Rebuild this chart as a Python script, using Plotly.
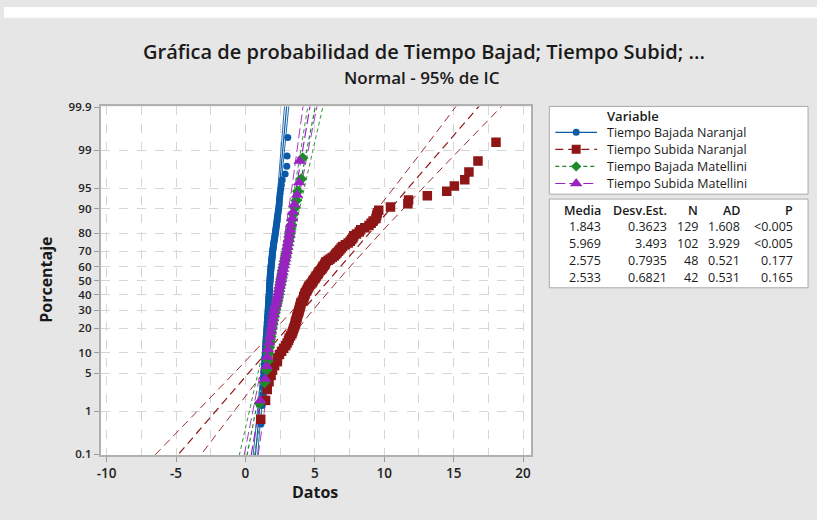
import plotly.graph_objects as go
from statistics import NormalDist

nd = NormalDist()

# ---------------- data ----------------
series_names = ["Tiempo Bajada Naranjal", "Tiempo Subida Naranjal",
                "Tiempo Bajada Matellini", "Tiempo Subida Matellini"]

bajada_naranjal = [
    1.12, 1.19, 1.24, 1.27, 1.30, 1.32, 1.34, 1.35, 1.37, 1.39,
    1.40, 1.42, 1.42, 1.44, 1.45, 1.45, 1.47, 1.47, 1.49, 1.49,
    1.50, 1.52, 1.52, 1.54, 1.54, 1.55, 1.55, 1.57, 1.57, 1.57,
    1.59, 1.59, 1.60, 1.60, 1.62, 1.62, 1.62, 1.64, 1.64, 1.64,
    1.65, 1.65, 1.67, 1.67, 1.67, 1.67, 1.69, 1.69, 1.69, 1.70,
    1.70, 1.70, 1.72, 1.72, 1.72, 1.72, 1.74, 1.74, 1.74, 1.74,
    1.75, 1.75, 1.75, 1.77, 1.77, 1.77, 1.77, 1.79, 1.79, 1.79,
    1.80, 1.80, 1.82, 1.82, 1.82, 1.84, 1.84, 1.85, 1.85, 1.87,
    1.87, 1.89, 1.89, 1.90, 1.90, 1.92, 1.92, 1.94, 1.94, 1.95,
    1.97, 1.97, 1.99, 2.00, 2.02, 2.02, 2.04, 2.05, 2.07, 2.09,
    2.10, 2.12, 2.14, 2.15, 2.17, 2.19, 2.20, 2.22, 2.24, 2.25,
    2.27, 2.29, 2.30, 2.32, 2.35, 2.37, 2.39, 2.42, 2.44, 2.45,
    2.47, 2.50, 2.54, 2.59, 2.65, 2.86, 2.98, 3.00, 3.05]

subida_naranjal = [
    1.10, 1.45, 1.57, 1.70, 1.85, 1.95, 2.10, 2.30, 2.30, 2.45,
    2.60, 2.75, 2.90, 3.00, 3.10, 3.15, 3.25, 3.35, 3.40, 3.45,
    3.50, 3.55, 3.60, 3.60, 3.65, 3.70, 3.72, 3.75, 3.80, 3.84,
    3.86, 3.90, 3.92, 3.96, 3.98, 4.00, 4.10, 4.15, 4.20, 4.20,
    4.25, 4.30, 4.32, 4.40, 4.45, 4.50, 4.55, 4.60, 4.70, 4.80,
    4.85, 4.90, 5.00, 5.05, 5.10, 5.20, 5.25, 5.30, 5.40, 5.50,
    5.55, 5.60, 5.70, 5.75, 5.80, 5.95, 6.10, 6.25, 6.40, 6.50,
    6.60, 6.70, 6.80, 6.90, 7.00, 7.20, 7.40, 7.55, 7.65, 7.75,
    7.80, 8.00, 8.20, 8.30, 8.60, 8.90, 9.05, 9.20, 9.40, 9.45,
    9.50, 9.60, 10.45, 11.70, 11.75, 13.10, 14.50, 15.05, 15.80, 16.10,
    16.75, 18.05]

bajada_matellini = [
    1.02, 1.37, 1.52, 1.62, 1.67, 1.72, 1.77, 1.82, 1.87, 1.92,
    1.97, 2.02, 2.07, 2.12, 2.17, 2.22, 2.27, 2.32, 2.37, 2.42,
    2.44, 2.47, 2.52, 2.54, 2.57, 2.62, 2.64, 2.67, 2.72, 2.77,
    2.82, 2.87, 2.92, 2.97, 3.02, 3.07, 3.12, 3.17, 3.22, 3.27,
    3.32, 3.37, 3.47, 3.57, 3.67, 3.77, 4.02, 4.12]

subida_matellini = [
    1.07, 1.42, 1.52, 1.57, 1.62, 1.72, 1.77, 1.82, 1.87, 1.92,
    1.97, 2.02, 2.07, 2.12, 2.22, 2.27, 2.32, 2.37, 2.42, 2.47,
    2.52, 2.57, 2.62, 2.67, 2.72, 2.77, 2.82, 2.87, 2.92, 2.97,
    3.02, 3.07, 3.12, 3.17, 3.22, 3.27, 3.37, 3.42, 3.52, 3.72,
    3.87, 3.90]

table_media = ["1.843", "5.969", "2.575", "2.533"]
table_desv = ["0.3623", "3.493", "0.7935", "0.6821"]
table_n = ["129", "102", "48", "42"]
table_ad = ["1.608", "3.929", "0.521", "0.531"]
table_p = ["<0.005", "<0.005", "0.177", "0.165"]

pct_ticks = [0.1, 1, 5, 10, 20, 30, 40, 50, 60, 70, 80, 90, 95, 99, 99.9]
pct_labels = ["0.1", "1", "5", "10", "20", "30", "40", "50", "60", "70",
              "80", "90", "95", "99", "99.9"]
x_ticks = [-10, -5, 0, 5, 10, 15, 20]

# ---------------- styles ----------------
colors = ["#0b5aa8", "#8e1616", "#1f8a2a", "#9a22c2"]
symbols = ["circle", "square", "diamond", "triangle-up"]
msizes = [7, 9.5, 9, 11]
leg_msizes = [7, 9, 8, 11]
dashes = ["solid", "8px,5px", "4px,3px", "10px,4px"]

W, H = 817, 520
def PX(x):
    return x / W
def PY(y):
    return 1 - y / H

# plot area pixels
L, R, T, B = 97, 530, 102, 459.5
ZMAX = nd.inv_cdf(0.999)

fig = go.Figure()

datasets = [bajada_naranjal, subida_naranjal, bajada_matellini, subida_matellini]

# fit + CI lines
zgrid = [-3.6 + 7.2 * k / 120 for k in range(121)]
for k, data in enumerate(datasets):
    m = float(table_media[k]); s = float(table_desv[k]); n = int(table_n[k])
    fit = [m + z * s for z in zgrid]
    half = [1.959964 * s * (1.0 / n + z * z / (2.0 * n)) ** 0.5 for z in zgrid]
    lo = [f - h for f, h in zip(fit, half)]
    hi = [f + h for f, h in zip(fit, half)]
    for xs, w in ((lo, 0.9), (hi, 0.9), (fit, 1.2)):
        fig.add_trace(go.Scatter(x=xs, y=zgrid, mode="lines",
                                 line=dict(color=colors[k], width=w, dash=dashes[k]),
                                 showlegend=False, hoverinfo="skip"))

# data points (normal scores via median ranks)
for k, data in enumerate(datasets):
    vals = sorted(data)
    n = len(vals)
    zs = [nd.inv_cdf((i + 1 - 0.3) / (n + 0.4)) for i in range(n)]
    fig.add_trace(go.Scatter(x=vals, y=zs, mode="markers", name=series_names[k],
                             marker=dict(symbol=symbols[k], size=msizes[k], color=colors[k],
                                         line=dict(width=0)),
                             showlegend=False))

# ---------------- legend (drawn on helper axes in pixel units) ----------------
LX0, LX1, LY0, LY1 = 548, 808, 101, 289
leg_rows = [128.5, 146, 163.5, 181]
for k in range(4):
    fig.add_trace(go.Scatter(x=[554, 596], y=[leg_rows[k], leg_rows[k]], mode="lines",
                             line=dict(color=colors[k], width=1.2, dash=dashes[k]),
                             xaxis="x2", yaxis="y2", showlegend=False, hoverinfo="skip"))
    fig.add_trace(go.Scatter(x=[575], y=[leg_rows[k]], mode="markers",
                             marker=dict(symbol=symbols[k], size=leg_msizes[k], color=colors[k]),
                             xaxis="x2", yaxis="y2", showlegend=False, hoverinfo="skip"))

FONT = "Open Sans"
TXT = "#1a1a1a"
ann = []
ann.append(dict(x=604, y=112, xref="x2", yref="y2", text="Variable", showarrow=False,
                xanchor="left", yanchor="middle",
                font=dict(family=FONT, size=13, color=TXT, weight=600)))
for k in range(4):
    ann.append(dict(x=604, y=leg_rows[k], xref="x2", yref="y2", text=series_names[k],
                    showarrow=False, xanchor="left", yanchor="middle",
                    font=dict(family=FONT, size=12.5, color=TXT)))

col_right = [602, 668, 699, 742, 795]
headers = ["Media", "Desv.Est.", "N", "AD", "P"]
for c, h in enumerate(headers):
    ann.append(dict(x=col_right[c], y=209, xref="x2", yref="y2", text=h, showarrow=False,
                    xanchor="right", yanchor="middle",
                    font=dict(family=FONT, size=12.5, color=TXT, weight=600)))
row_y = [225.5, 242.5, 260, 277]
cols = [table_media, table_desv, table_n, table_ad, table_p]
for r in range(4):
    for c in range(5):
        ann.append(dict(x=col_right[c], y=row_y[r], xref="x2", yref="y2",
                        text=cols[c][r], showarrow=False, xanchor="right", yanchor="middle",
                        font=dict(family=FONT, size=12.5, color=TXT)))

# titles
ann.append(dict(x=PX(422), y=PY(46), xref="paper", yref="paper",
                text="Gráfica de probabilidad de Tiempo Bajad; Tiempo Subid; ...",
                showarrow=False, xanchor="center", yanchor="middle",
                font=dict(family=FONT, size=20, color=TXT, weight=600)))
ann.append(dict(x=PX(420), y=PY(72), xref="paper", yref="paper",
                text="Normal - 95% de IC", showarrow=False, xanchor="center", yanchor="middle",
                font=dict(family=FONT, size=17, color=TXT, weight=600)))
ann.append(dict(x=PX(313), y=PY(497), xref="paper", yref="paper", text="Datos",
                showarrow=False, xanchor="center", yanchor="middle",
                font=dict(family=FONT, size=16, color=TXT, weight=700)))
ann.append(dict(x=PX(42), y=PY(280), xref="paper", yref="paper", text="Porcentaje",
                showarrow=False, textangle=-90, xanchor="center", yanchor="middle",
                font=dict(family=FONT, size=16, color=TXT, weight=700)))

shapes = [
    dict(type="rect", xref="paper", yref="paper", x0=0, x1=1, y0=PY(11), y1=1,
         fillcolor="white", line=dict(width=0), layer="below"),
    dict(type="rect", xref="paper", yref="paper", x0=PX(L), x1=PX(R), y0=PY(B), y1=PY(T),
         fillcolor="white", line=dict(width=0), layer="below"),
    dict(type="rect", xref="paper", yref="paper", x0=PX(548), x1=PX(808), y0=PY(192), y1=PY(102),
         fillcolor="white", line=dict(color="#a8a8a8", width=1), layer="below"),
    dict(type="rect", xref="paper", yref="paper", x0=PX(548), x1=PX(808), y0=PY(288), y1=PY(197),
         fillcolor="white", line=dict(color="#a8a8a8", width=1), layer="below"),
]

grid_col = "#d6d6d6"
fig.update_layout(
    width=W, height=H,
    margin=dict(l=0, r=0, t=0, b=0),
    paper_bgcolor="#e6e6e6",
    plot_bgcolor="rgba(0,0,0,0)",
    showlegend=False,
    annotations=ann,
    shapes=shapes,
    xaxis=dict(domain=[PX(L), PX(R)], range=[-10.44, 20.6], tickvals=x_ticks,
               ticktext=[str(v) for v in x_ticks], ticks="outside", ticklen=5,
               tickcolor="#9a9a9a", showline=True, linecolor="#b0b0b0", linewidth=1.5,
               mirror=True, showgrid=True, gridcolor=grid_col, griddash="dash",
               gridwidth=1, zeroline=False,
               minor=dict(dtick=2.5, tick0=0, showgrid=True, gridcolor=grid_col,
                          griddash="dash", ticks=""),
               tickfont=dict(family=FONT, size=13.5, color="#222222", weight=600)),
    yaxis=dict(domain=[PY(B), PY(T)], range=[-ZMAX * 1.004, ZMAX * 1.004],
               tickvals=[nd.inv_cdf(p / 100.0) for p in pct_ticks], ticktext=pct_labels,
               ticks="outside", ticklen=5, tickcolor="#9a9a9a", showline=True,
               linecolor="#b0b0b0", linewidth=1.5, mirror=True, showgrid=True,
               gridcolor=grid_col, griddash="dash", zeroline=False,
               tickfont=dict(family=FONT, size=11.5, color="#222222", weight=600)),
    xaxis2=dict(domain=[PX(LX0), PX(LX1)], range=[LX0, LX1], visible=False,
                anchor="y2", fixedrange=True),
    yaxis2=dict(domain=[PY(LY1), PY(LY0)], range=[LY1, LY0], visible=False,
                anchor="x2", fixedrange=True),
)

fig.write_html("out.html")
